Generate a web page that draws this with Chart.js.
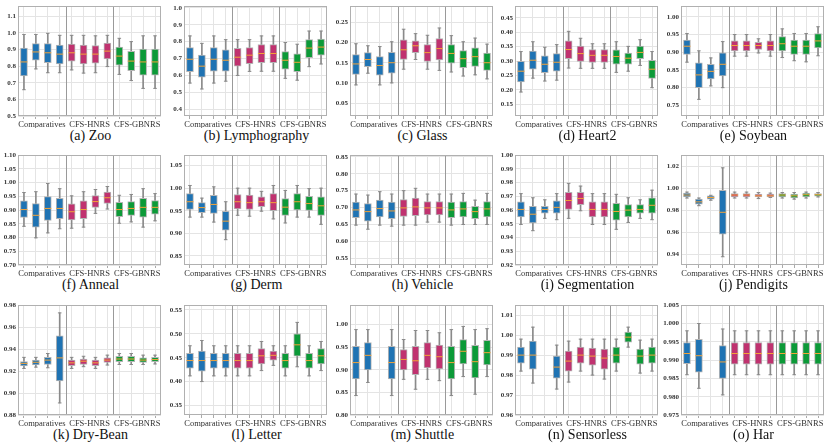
<!DOCTYPE html>
<html><head><meta charset="utf-8">
<script src="https://cdn.jsdelivr.net/npm/chart.js@4/dist/chart.umd.min.js"></script>
<style>
html,body{margin:0;padding:0;background:#fff;}
#wrap{position:relative;width:831px;height:446px;overflow:hidden;}
.pc{position:absolute;}
.cap{position:absolute;font-family:"Liberation Serif","Times New Roman","DejaVu Serif",serif;font-size:14px;line-height:15px;color:#111;text-align:center;white-space:nowrap;}
</style></head><body>
<div id="wrap"></div>
<script>
// each box: [whiskerLow, q1, median, q3, whiskerHigh]
const categories = ['C1','C2','C3','C4','H1','H2','H3','H4','G1','G2','G3','G4'];
const groupLabels = ['Comparatives','CFS-HNRS','CFS-GBNRS'];
const boxColors = ['#1f73b3','#1f73b3','#1f73b3','#1f73b3','#c0326f','#c0326f','#c0326f','#c0326f','#0c9a38','#0c9a38','#0c9a38','#0c9a38'];

const zoo = [[0.658,0.741,0.825,0.908,0.990],[0.783,0.835,0.885,0.935,0.990],[0.760,0.820,0.880,0.935,0.997],[0.760,0.813,0.872,0.926,0.985],[0.777,0.830,0.880,0.932,0.985],[0.758,0.813,0.872,0.926,0.985],[0.760,0.817,0.872,0.924,0.982],[0.797,0.843,0.890,0.938,0.985],[0.750,0.806,0.860,0.914,0.967],[0.713,0.772,0.830,0.888,0.947],[0.666,0.745,0.825,0.902,0.982],[0.666,0.745,0.825,0.902,0.982]];
const lymphography = [[0.555,0.622,0.696,0.765,0.834],[0.520,0.590,0.655,0.720,0.790],[0.555,0.625,0.696,0.765,0.834],[0.566,0.625,0.690,0.752,0.812],[0.600,0.655,0.708,0.760,0.812],[0.624,0.670,0.720,0.765,0.812],[0.625,0.676,0.730,0.783,0.834],[0.625,0.676,0.730,0.783,0.834],[0.583,0.637,0.690,0.742,0.795],[0.572,0.622,0.678,0.728,0.785],[0.652,0.705,0.762,0.812,0.863],[0.668,0.720,0.768,0.816,0.863]];
const glass = [[0.095,0.121,0.147,0.170,0.197],[0.124,0.140,0.158,0.175,0.192],[0.095,0.119,0.143,0.165,0.190],[0.100,0.124,0.150,0.176,0.202],[0.134,0.158,0.182,0.207,0.233],[0.158,0.175,0.192,0.204,0.222],[0.134,0.153,0.175,0.195,0.218],[0.131,0.157,0.185,0.210,0.236],[0.127,0.149,0.173,0.195,0.217],[0.117,0.138,0.160,0.180,0.202],[0.120,0.141,0.165,0.187,0.211],[0.110,0.131,0.150,0.174,0.196]];
const heart2 = [[0.193,0.228,0.265,0.299,0.333],[0.241,0.272,0.303,0.335,0.367],[0.231,0.260,0.289,0.318,0.348],[0.234,0.265,0.296,0.326,0.357],[0.276,0.308,0.340,0.370,0.403],[0.275,0.299,0.326,0.352,0.379],[0.275,0.295,0.320,0.340,0.360],[0.275,0.295,0.320,0.340,0.360],[0.261,0.289,0.316,0.339,0.367],[0.265,0.289,0.310,0.328,0.351],[0.285,0.308,0.330,0.352,0.374],[0.208,0.240,0.272,0.303,0.333]];
const soybean = [[0.872,0.894,0.917,0.934,0.953],[0.767,0.800,0.836,0.870,0.904],[0.805,0.825,0.846,0.866,0.884],[0.800,0.833,0.866,0.898,0.930],[0.889,0.904,0.919,0.932,0.950],[0.889,0.904,0.919,0.932,0.950],[0.898,0.908,0.919,0.928,0.938],[0.889,0.904,0.919,0.932,0.950],[0.885,0.904,0.924,0.944,0.966],[0.876,0.894,0.917,0.934,0.953],[0.873,0.894,0.917,0.934,0.953],[0.890,0.912,0.932,0.953,0.972]];
const anneal = [[0.841,0.873,0.902,0.934,0.964],[0.799,0.838,0.881,0.924,0.967],[0.817,0.862,0.906,0.949,0.997],[0.832,0.869,0.906,0.943,0.978],[0.834,0.864,0.894,0.923,0.952],[0.838,0.869,0.902,0.934,0.967],[0.888,0.910,0.931,0.953,0.975],[0.904,0.924,0.945,0.966,0.986],[0.852,0.876,0.902,0.928,0.954],[0.857,0.881,0.906,0.931,0.957],[0.838,0.874,0.910,0.943,0.978],[0.861,0.885,0.910,0.935,0.960]];
const derm = [[0.936,0.953,0.970,0.988,1.006],[0.936,0.946,0.957,0.968,0.978],[0.925,0.944,0.964,0.984,1.003],[0.886,0.907,0.927,0.949,0.970],[0.940,0.954,0.970,0.986,1.000],[0.938,0.953,0.968,0.985,1.000],[0.949,0.959,0.970,0.981,0.993],[0.932,0.950,0.968,0.988,1.006],[0.923,0.940,0.958,0.977,0.995],[0.936,0.952,0.970,0.988,1.006],[0.936,0.951,0.966,0.982,0.999],[0.920,0.940,0.961,0.981,1.000]];
const vehicle = [[0.648,0.670,0.693,0.716,0.740],[0.636,0.660,0.688,0.712,0.737],[0.648,0.672,0.697,0.722,0.747],[0.645,0.667,0.690,0.716,0.740],[0.648,0.674,0.699,0.724,0.750],[0.648,0.676,0.702,0.728,0.757],[0.657,0.678,0.699,0.718,0.740],[0.657,0.678,0.699,0.718,0.740],[0.648,0.670,0.693,0.716,0.740],[0.650,0.672,0.696,0.718,0.742],[0.650,0.667,0.688,0.704,0.722],[0.650,0.672,0.696,0.718,0.742]];
const segmentation = [[0.9495,0.955,0.9605,0.966,0.972],[0.945,0.9507,0.957,0.9627,0.969],[0.954,0.9577,0.9605,0.9627,0.9675],[0.953,0.9577,0.962,0.9668,0.972],[0.954,0.9605,0.967,0.973,0.9795],[0.9595,0.964,0.9685,0.973,0.9775],[0.9495,0.955,0.9605,0.966,0.972],[0.9495,0.955,0.9605,0.966,0.972],[0.946,0.9527,0.959,0.965,0.9715],[0.951,0.955,0.960,0.964,0.969],[0.954,0.9577,0.9605,0.964,0.9675],[0.953,0.9577,0.9635,0.969,0.9745]];
const pendigits = [[0.991,0.992,0.9937,0.9955,0.9964],[0.984,0.9855,0.9875,0.990,0.991],[0.989,0.990,0.9915,0.993,0.9935],[0.9375,0.958,0.978,0.998,1.0185],[0.991,0.992,0.9937,0.995,0.9964],[0.991,0.992,0.9937,0.995,0.9964],[0.9905,0.992,0.993,0.9946,0.996],[0.9915,0.992,0.993,0.9946,0.9955],[0.991,0.992,0.9937,0.995,0.996],[0.990,0.991,0.993,0.9946,0.996],[0.991,0.992,0.994,0.9955,0.9964],[0.992,0.9928,0.994,0.995,0.996]];
const dryBean = [[0.9224,0.9248,0.927,0.9287,0.9325],[0.9236,0.9255,0.928,0.930,0.9325],[0.923,0.926,0.930,0.9325,0.936],[0.891,0.911,0.932,0.952,0.973],[0.9224,0.925,0.9275,0.930,0.9325],[0.924,0.926,0.929,0.931,0.9335],[0.9224,0.925,0.9275,0.930,0.9325],[0.9255,0.928,0.930,0.932,0.9345],[0.926,0.9285,0.931,0.9335,0.936],[0.926,0.9285,0.931,0.9335,0.936],[0.926,0.928,0.930,0.932,0.9345],[0.9265,0.9285,0.9305,0.9325,0.9345]];
const letter = [[0.412,0.428,0.444,0.459,0.475],[0.400,0.422,0.444,0.464,0.486],[0.412,0.428,0.444,0.459,0.475],[0.412,0.428,0.444,0.459,0.475],[0.412,0.428,0.444,0.459,0.475],[0.412,0.428,0.444,0.459,0.475],[0.423,0.437,0.454,0.469,0.484],[0.434,0.445,0.455,0.464,0.475],[0.412,0.428,0.444,0.459,0.475],[0.431,0.453,0.477,0.500,0.524],[0.412,0.428,0.444,0.459,0.475],[0.423,0.437,0.454,0.469,0.484]];
const shuttle = [[0.843,0.880,0.916,0.952,0.989],[0.872,0.900,0.932,0.960,0.989],null,[0.843,0.880,0.916,0.952,0.989],[0.879,0.900,0.923,0.945,0.967],[0.857,0.889,0.920,0.952,0.987],[0.879,0.904,0.932,0.960,0.987],[0.876,0.902,0.929,0.955,0.982],[0.843,0.880,0.916,0.952,0.989],[0.885,0.913,0.941,0.967,0.996],[0.846,0.882,0.918,0.954,0.989],[0.885,0.911,0.938,0.965,0.991]];
const sensorless = [[0.982,0.986,0.990,0.994,0.998],[0.976,0.983,0.990,0.997,1.004],null,[0.973,0.9785,0.984,0.9895,0.995],[0.9765,0.982,0.987,0.992,0.997],[0.982,0.986,0.990,0.994,0.998],[0.980,0.985,0.9895,0.9935,0.998],[0.978,0.983,0.9885,0.993,0.998],[0.982,0.986,0.990,0.994,0.998],[0.994,0.9965,0.999,1.0015,1.004],[0.981,0.9855,0.9895,0.993,0.9975],[0.982,0.986,0.990,0.994,0.998]];
const har = [[0.986,0.989,0.9918,0.9948,0.998],[0.9823,0.9867,0.9912,0.9957,1.000],null,[0.9805,0.985,0.9895,0.994,0.9985],[0.986,0.9889,0.9918,0.9948,0.998],[0.986,0.9889,0.9918,0.9948,0.998],[0.986,0.9889,0.9918,0.9948,0.998],[0.986,0.9889,0.9918,0.9948,0.998],[0.986,0.9889,0.9918,0.9948,0.998],[0.986,0.9889,0.9918,0.9948,0.998],[0.986,0.9889,0.9918,0.9948,0.998],[0.986,0.9889,0.9918,0.9948,0.998]];

const captions = ['(a) Zoo','(b) Lymphography','(c) Glass','(d) Heart2','(e) Soybean','(f) Anneal','(g) Derm','(h) Vehicle','(i) Segmentation','(j) Pendigits','(k) Dry-Bean','(l) Letter','(m) Shuttle','(n) Sensorless','(o) Har'];
const panelData = [zoo,lymphography,glass,heart2,soybean,anneal,derm,vehicle,segmentation,pendigits,dryBean,letter,shuttle,sensorless,har];
// y axis ranges and tick labels
const yRanges = [[0.5,1.16],[0.36,1.01],[0.018,0.29],[0.11,0.49],[0.72,1.03],[0.70,1.10],[0.83,1.073],[0.53,0.855],[0.92,1.00],[0.93,1.03],[0.88,0.98],[0.33,0.56],[0.80,1.043],[0.96,1.015],[0.975,1.005]];
const yTickLabels = [
 ['0.5','0.6','0.7','0.8','0.9','1.0','1.1'],
 ['0.4','0.5','0.6','0.7','0.8','0.9','1.0'],
 ['0.05','0.10','0.15','0.20','0.25'],
 ['0.15','0.20','0.25','0.30','0.35','0.40','0.45'],
 ['0.75','0.80','0.85','0.90','0.95','1.00'],
 ['0.70','0.75','0.80','0.85','0.90','0.95','1.00','1.05','1.10'],
 ['0.85','0.90','0.95','1.00','1.05'],
 ['0.55','0.60','0.65','0.70','0.75','0.80','0.85'],
 ['0.92','0.93','0.94','0.95','0.96','0.97','0.98','0.99','1.00'],
 ['0.94','0.96','0.98','1.00','1.02'],
 ['0.88','0.90','0.92','0.94','0.96','0.98'],
 ['0.35','0.40','0.45','0.50','0.55'],
 ['0.80','0.85','0.90','0.95','1.00'],
 ['0.96','0.97','0.98','0.99','1.00','1.01'],
 ['0.975','0.980','0.985','0.990','0.995','1.000','1.005']
];

Chart.defaults.font.family = '"Liberation Serif", "Times New Roman", "DejaVu Serif", serif';
Chart.defaults.color = '#222';
Chart.defaults.animation = false;

const framePlugin = {
  id: 'frame',
  beforeDatasetsDraw(chart){
    const ctx = chart.ctx, a = chart.chartArea, x = chart.scales.x;
    ctx.save();
    ctx.strokeStyle = '#9a9a9a'; ctx.lineWidth = 1;
    [3,7].forEach(i=>{
      const px = Math.round((x.getPixelForValue(i)+x.getPixelForValue(i+1))/2)+0.5;
      ctx.beginPath(); ctx.moveTo(px,a.top); ctx.lineTo(px,a.bottom); ctx.stroke();
    });
    ctx.strokeStyle = '#b0b0b0';
    ctx.strokeRect(Math.round(a.left)+0.5, Math.round(a.top)+0.5, Math.round(a.right-a.left)-1, Math.round(a.bottom-a.top)-1);
    ctx.restore();
  }
};

const wrap = document.getElementById('wrap');
const rowTops = [0, 149, 299];
panelData.forEach((d, k) => {
  const col = k % 5, row = Math.floor(k/5);
  const left = Math.round(col*165.8), top = rowTops[row];
  const cv = document.createElement('canvas');
  cv.className = 'pc';
  cv.style.left = left+'px'; cv.style.top = top+'px';
  cv.style.width = '166px'; cv.style.height = '128px';
  cv.width = 166; cv.height = 128;
  wrap.appendChild(cv);
  const cap = document.createElement('div');
  cap.className = 'cap';
  cap.style.left = (left+18)+'px'; cap.style.width = '145px';
  cap.style.top = (top+4+112+12)+'px';
  cap.textContent = captions[k];
  wrap.appendChild(cap);

  const whisk = d.map(b => b ? [b[0], b[4]] : null);
  const boxes = d.map(b => b ? [b[1], b[3]] : null);
  const meds = d.map(b => b ? b[2] : null);
  const lows = d.map(b => b ? b[0] : null);
  const highs = d.map(b => b ? b[4] : null);
  const ticks = yTickLabels[k];
  new Chart(cv, {
    type: 'bar',
    data: {
      labels: categories,
      datasets: [
        {type:'bar', data: whisk, grouped:false, barThickness:1, backgroundColor:'#8a8a8a', borderWidth:0, order:5},
        {type:'bar', data: boxes, grouped:false, barThickness:7, backgroundColor: boxColors, borderColor:'#b5b5b5', borderWidth:1, borderSkipped:false, order:4},
        {type:'line', data: lows, showLine:false, pointStyle:'line', pointRadius:1.8, pointBorderColor:'#8a8a8a', pointBorderWidth:1, order:3},
        {type:'line', data: highs, showLine:false, pointStyle:'line', pointRadius:1.8, pointBorderColor:'#8a8a8a', pointBorderWidth:1, order:3},
        {type:'line', data: meds, showLine:false, pointStyle:'line', pointRadius:3.5, pointBorderColor:'#f2a33a', pointBorderWidth:1, order:1}
      ]
    },
    options: {
      responsive:false, devicePixelRatio: window.devicePixelRatio || 1,
      layout:{padding:{top:4,right:3,left:0,bottom:0}},
      plugins:{legend:{display:false}, tooltip:{enabled:false}},
      events: [],
      scales: {
        x: {
          offset:true,
          grid:{offset:false, color:'#e4e4e4', lineWidth:1, tickLength:3, tickColor:'#aaa'},
          border:{display:false},
          ticks:{autoSkip:false, maxRotation:0, minRotation:0, padding:1, labelOffset:6,
                 font:{size:8.5}, color:'#333',
                 callback:(v,i)=> i===1?groupLabels[0]: i===5?groupLabels[1]: i===9?groupLabels[2]:''},
          afterFit(s){ s.height = 12; }
        },
        y: {
          min: yRanges[k][0], max: yRanges[k][1],
          grid:{color:'#e4e4e4', drawTicks:false},
          border:{display:false},
          afterBuildTicks(s){ s.ticks = ticks.map(t => ({value: parseFloat(t)})); },
          ticks:{padding:2, font:{size:7, weight:'bold'}, color:'#333',
                 callback:(v,i)=> ticks[i]},
          afterFit(s){ s.width = 18; }
        }
      }
    },
    plugins:[framePlugin]
  });
});
</script>
</body></html>
